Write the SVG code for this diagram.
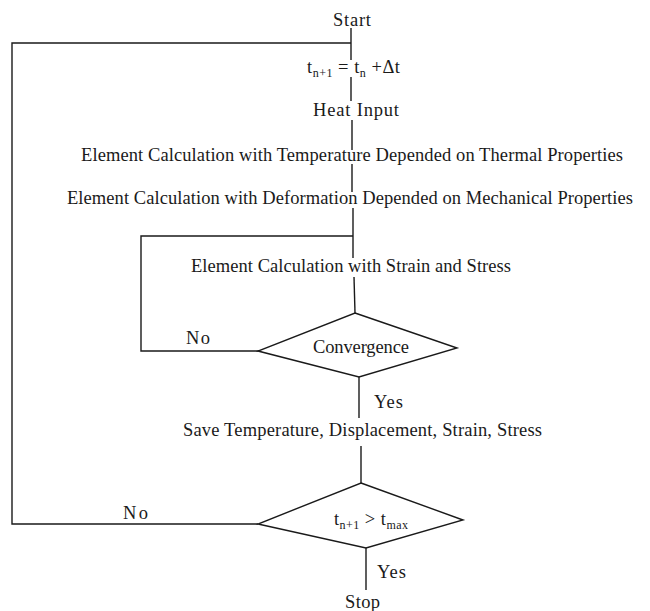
<svg xmlns="http://www.w3.org/2000/svg" width="650" height="611" viewBox="0 0 650 611">
<style>
  text { font-family: "Liberation Serif", "Times New Roman", serif; font-size: 18.5px; fill: #1a1a1a; }
  .sub { font-size: 12px; }
  .ln { fill: none; stroke: #1a1a1a; stroke-width: 1.4; }
</style>
<rect width="650" height="611" fill="#ffffff"/>
<g id="connectors">
  <line class="ln" x1="351" y1="28" x2="351" y2="60"/>
  <line class="ln" x1="351" y1="77" x2="351" y2="101"/>
  <line class="ln" x1="352" y1="120" x2="352" y2="150"/>
  <line class="ln" x1="352" y1="164" x2="352" y2="192"/>
  <line class="ln" x1="353" y1="208" x2="353" y2="258"/>
  <line class="ln" x1="354" y1="277" x2="355" y2="313"/>
  <line class="ln" x1="359" y1="377" x2="359" y2="418"/>
  <line class="ln" x1="361" y1="446" x2="361" y2="483"/>
  <line class="ln" x1="366" y1="548" x2="366" y2="590"/>
  <polyline class="ln" points="258,524 12,524 12,43 351,43"/>
  <polyline class="ln" points="258,351 141,351 141,236 353,236"/>
  <text x="186" y="344" textLength="24" lengthAdjust="spacing">No</text>
  <text x="374" y="408" textLength="29" lengthAdjust="spacing">Yes</text>
  <text x="123" y="519" textLength="25" lengthAdjust="spacing">No</text>
  <text x="377" y="578" textLength="29" lengthAdjust="spacing">Yes</text>
</g>
<g id="start"><text x="333" y="26" textLength="38" lengthAdjust="spacing">Start</text></g>
<g id="step-time"><text x="307" y="73" textLength="93" lengthAdjust="spacing">t<tspan class="sub" dy="4">n+1</tspan><tspan dy="-4"> = t</tspan><tspan class="sub" dy="4">n</tspan><tspan dy="-4"> +Δt</tspan></text></g>
<g id="heat-input"><text x="313" y="116" textLength="86" lengthAdjust="spacing">Heat Input</text></g>
<g id="thermal"><text x="81" y="161" textLength="542" lengthAdjust="spacing">Element Calculation with Temperature Depended on Thermal Properties</text></g>
<g id="mechanical"><text x="67" y="204" textLength="566" lengthAdjust="spacing">Element Calculation with Deformation Depended on Mechanical Properties</text></g>
<g id="strain-stress"><text x="191" y="272" textLength="320" lengthAdjust="spacing">Element Calculation with Strain and Stress</text></g>
<g id="convergence">
  <polygon class="ln" points="355,313 457,348 359,377 258,351"/>
  <text x="313" y="353" textLength="96" lengthAdjust="spacing">Convergence</text>
</g>
<g id="save"><text x="183" y="436" textLength="359" lengthAdjust="spacing">Save Temperature, Displacement, Strain, Stress</text></g>
<g id="time-check">
  <polygon class="ln" points="361,483 463,520 366,548 258,524"/>
  <text x="334" y="525" textLength="74" lengthAdjust="spacing">t<tspan class="sub" dy="4">n+1</tspan><tspan dy="-4"> &gt; t</tspan><tspan class="sub" dy="4">max</tspan></text>
</g>
<g id="stop"><text x="345" y="608" textLength="35" lengthAdjust="spacing">Stop</text></g>
</svg>
